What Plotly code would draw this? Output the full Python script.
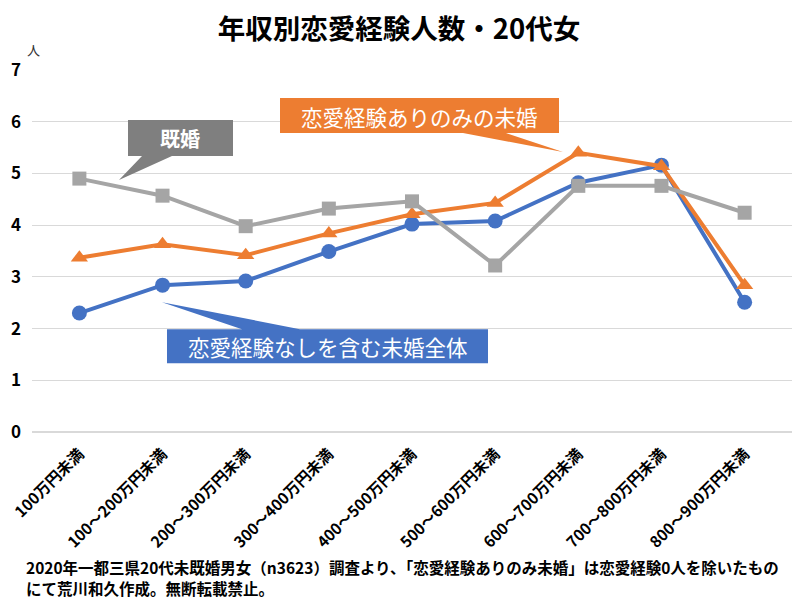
import plotly.graph_objects as go

categories = ["100万円未満", "100～200万円未満", "200～300万円未満", "300～400万円未満",
              "400～500万円未満", "500～600万円未満", "600～700万円未満", "700～800万円未満",
              "800～900万円未満"]
unmarried_all = [2.30, 2.84, 2.92, 3.49, 4.02, 4.08, 4.82, 5.16, 2.51]
unmarried_exp = [3.37, 3.63, 3.42, 3.84, 4.21, 4.43, 5.40, 5.14, 2.84]
married = [4.90, 4.57, 3.98, 4.32, 4.46, 3.22, 4.76, 4.76, 4.24]
y_ticks = [0, 1, 2, 3, 4, 5, 6, 7]

BLUE = "#4472C4"
ORANGE = "#ED7D31"
GRAY = "#A5A5A5"
DGRAY = "#7F7F7F"
FONT = "Noto Sans CJK JP"

OFF = 8  # page body margin
W, H = 800 - OFF, 600 - OFF
# plot area in screen pixels: x 32..792, y 70..431.7
L = 32 - OFF
R = W - (792 - OFF)
T = 70 - OFF
B = H - (431.7 - OFF)
PW, PH = W - L - R, H - T - B


def px(x, y):
    x -= OFF
    y -= OFF
    return (x - L) / PW, (H - B - y) / PH


def path(points):
    s = ""
    for i, (x, y) in enumerate(points):
        u, v = px(x, y)
        s += ("M" if i == 0 else "L") + f"{u:.5f},{v:.5f} "
    return s + "Z"


fig = go.Figure()
fig.add_trace(go.Scatter(x=categories, y=unmarried_all, mode="lines+markers",
                         line=dict(color=BLUE, width=4),
                         marker=dict(symbol="circle", size=15, color=BLUE)))
fig.add_trace(go.Scatter(x=categories, y=unmarried_exp, mode="lines+markers",
                         line=dict(color=ORANGE, width=4),
                         marker=dict(symbol="triangle-up", size=15, color=ORANGE)))
fig.add_trace(go.Scatter(x=categories, y=married, mode="lines+markers",
                         line=dict(color=GRAY, width=4),
                         marker=dict(symbol="square", size=14, color=GRAY)))

shapes = []
shapes.append(dict(type="path", xref="paper", yref="paper", layer="above",
                   path=path([(128, 120), (233, 120), (233, 156), (172, 156), (119, 180), (142, 156), (128, 156)]),
                   fillcolor=DGRAY, line=dict(width=0)))
shapes.append(dict(type="path", xref="paper", yref="paper", layer="above",
                   path=path([(280, 98), (559, 98), (559, 133), (506, 133), (563, 152), (463, 133), (280, 133)]),
                   fillcolor=ORANGE, line=dict(width=0)))
shapes.append(dict(type="path", xref="paper", yref="paper", layer="above",
                   path=path([(167, 329), (242, 329), (162, 302), (300, 329), (488, 329), (488, 363), (167, 363)]),
                   fillcolor=BLUE, line=dict(width=0)))

annotations = []


def label(text, x, y, size, color="white", xanchor="center", yanchor="middle", align="center"):
    u, v = px(x, y)
    annotations.append(dict(text=text, x=u, y=v, xref="paper", yref="paper", showarrow=False,
                            xanchor=xanchor, yanchor=yanchor, align=align,
                            font=dict(family=FONT, size=size, color=color)))


label("<b>既婚</b>", 180, 138, 20)
label("恋愛経験ありのみの未婚", 419, 116, 21.5)
label("恋愛経験なしを含む未婚全体", 328, 346, 21.5)
label("人", 33, 50, 13, color="#333333")
label("<b>2020年一都三県20代未既婚男女（n3623）調査より、「恋愛経験ありのみ未婚」は恋愛経験0人を除いたもの</b>",
      24, 567, 15.5, color="black", xanchor="left", align="left")
label("<b>にて荒川和久作成。無断転載禁止。</b>",
      24, 588, 15.5, color="black", xanchor="left", align="left")

fig.update_layout(
    width=W, height=H,
    margin=dict(l=L, r=R, t=T, b=B),
    paper_bgcolor="white", plot_bgcolor="white",
    showlegend=False,
    title=dict(text="<b>年収別恋愛経験人数・20代女</b>", x=px(399, 29)[0], xref="paper", xanchor="center",
               y=1 - (29 - OFF) / H, yanchor="middle",
               font=dict(family=FONT, size=27.5, color="black")),
    font=dict(family=FONT, color="black"),
    shapes=shapes,
    annotations=annotations,
)
fig.update_xaxes(type="category", tickangle=-45, showgrid=False, showline=False, zeroline=False,
                 automargin=False, ticklabelstandoff=9,
                 ticks="", tickfont=dict(family=FONT, size=15.5, color="black"),
                 tickvals=categories, ticktext=[f"<b>{c}</b>" for c in categories])
fig.update_yaxes(range=[0, 7], tickvals=y_ticks, ticktext=[f"<b>{v}</b>" for v in y_ticks],
                 automargin=False, ticklabelstandoff=10,
                 showgrid=True, gridcolor="#D9D9D9", gridwidth=1, zeroline=True, zerolinecolor="#D9D9D9",
                 showline=False, ticks="", tickfont=dict(family=FONT, size=17, color="black"))

fig.write_html("out.html")
